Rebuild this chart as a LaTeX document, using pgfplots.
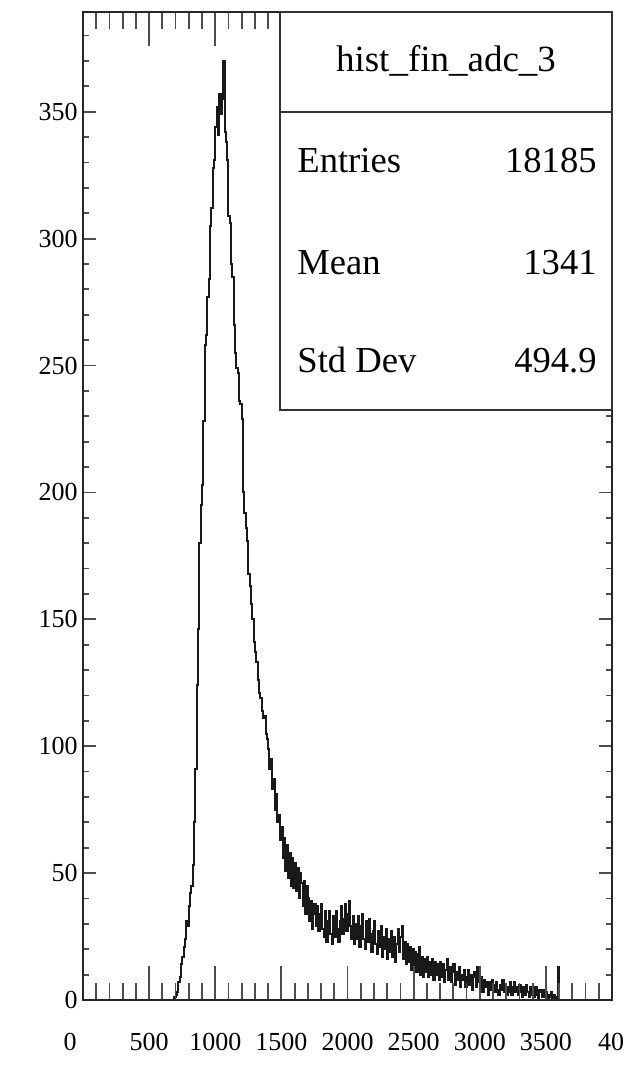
\documentclass[border=0pt]{standalone}
\usepackage{fontspec}
\setmainfont{Liberation Serif}
\usepackage{pgfplots}
\pgfplotsset{compat=1.18}
\usepackage{pgfplotstable}
\pgfplotstableread{
x y
680 0
690 1
700 2
710 3
720 7
730 9
740 14
750 17
760 21
770 24
780 31
790 29
800 37
810 42
820 45
830 53
840 70
850 91
860 124
870 146
880 180
890 195
900 203
910 228
920 258
930 262
940 277
950 284
960 305
970 312
980 328
990 331
1000 344
1010 352
1020 341
1030 357
1040 349
1050 355
1060 370
1070 342
1080 338
1090 331
1100 309
1110 306
1120 290
1130 285
1140 266
1150 255
1160 249
1170 247
1180 236
1190 235
1200 229
1210 200
1220 192
1230 186
1240 181
1250 168
1260 163
1270 156
1280 150
1290 141
1300 137
1310 133
1320 126
1330 121
1340 119
1350 114
1360 111
1370 112
1380 105
1390 103
1400 99
1410 91
1420 95
1430 83
1440 87
1450 75
1460 81
1470 70
1480 73
1490 63
1500 68
1510 56
1520 64
1530 51
1540 61
1550 48
1560 58
1570 45
1580 56
1590 44
1600 54
1610 43
1620 52
1630 40
1640 50
1650 46
1660 37
1670 47
1680 34
1690 45
1700 40
1710 31
1720 39
1730 28
1740 34
1750 38
1760 29
1770 37
1780 27
1790 34
1800 38
1810 28
1820 25
1830 35
1840 23
1850 31
1860 35
1870 26
1880 22
1890 33
1900 25
1910 35
1920 28
1930 23
1940 31
1950 37
1960 26
1970 32
1980 38
1990 27
2000 34
2010 39
2020 29
2030 24
2040 33
2050 22
2060 30
2070 24
2080 33
2090 21
2100 29
2110 34
2120 24
2130 20
2140 31
2150 23
2160 32
2170 26
2180 19
2190 27
2200 31
2210 22
2220 18
2230 27
2240 21
2250 29
2260 17
2270 25
2280 20
2290 28
2300 16
2310 24
2320 19
2330 27
2340 17
2350 25
2360 15
2370 22
2380 28
2390 19
2400 25
2410 29
2420 16
2430 23
2440 14
2450 22
2460 15
2470 21
2480 12
2490 20
2500 13
2510 19
2520 11
2530 18
2540 21
2550 10
2560 17
2570 9
2580 16
2590 11
2600 17
2610 9
2620 15
2630 10
2640 16
2650 8
2660 15
2670 10
2680 14
2690 8
2700 15
2710 9
2720 14
2730 7
2740 12
2750 16
2760 8
2770 13
2780 7
2790 11
2800 14
2810 6
2820 11
2830 8
2840 13
2850 5
2860 10
2870 8
2880 12
2890 5
2900 9
2910 12
2920 6
2930 10
2940 4
2950 9
2960 11
2970 5
2980 13
2990 7
3000 4
3010 9
3020 3
3030 8
3040 5
3050 7
3060 2
3070 7
3080 4
3090 8
3100 6
3110 3
3120 7
3130 4
3140 2
3150 6
3160 4
3170 8
3180 3
3190 6
3200 2
3210 5
3220 3
3230 7
3240 2
3250 5
3260 7
3270 3
3280 5
3290 2
3300 6
3310 3
3320 1
3330 5
3340 2
3350 6
3360 3
3370 1
3380 5
3390 2
3400 4
3410 1
3420 5
3430 2
3440 0
3450 4
3460 3
3470 1
3480 4
3490 1
3500 3
3510 0
3520 2
3530 1
3540 3
3550 0
3560 2
3570 1
3580 0
3590 13
3600 0
3610 0
}\histdata

\begin{document}
\begin{tikzpicture}
\pgfplotsset{
  common/.style={
    at={(41.5pt,37.5pt)}, anchor=south west,
    scale only axis, width=264.5pt, height=494pt,
    xmin=0, xmax=4000, ymin=0, ymax=389.3,
    axis line style={line width=1.4pt, black!85},
    tick style={line width=0.9pt, black!70},
    tick align=inside,
    /pgf/number format/assume math mode=true,
    ticklabel style={font=\fontsize{13}{13}\selectfont},
    scaled ticks=false,
  }
}
\begin{axis}[common,
  xtick=\empty,
  ytick distance=50, minor y tick num=4,
  ytick pos=both, yticklabel pos=left,
  major tick length=6.5pt, minor tick length=3pt,
  yticklabel style={anchor=east, inner sep=0pt, xshift=-2.5pt},
]
\addplot[const plot mark left, line width=1pt, black!90] table[x=x,y=y]{\histdata};
\end{axis}
\begin{axis}[common,
  ytick=\empty,
  xtick={0,500,...,4000}, minor x tick num=4,
  xticklabels={{\kern-6.5pt 0\kern6.5pt},500,1000,1500,2000,2500,3000,3500,{\kern6pt 4000\kern-6pt}},
  xtick pos=both, xticklabel pos=lower,
  major tick length=17pt, minor tick length=8.5pt,
  xticklabel style={anchor=base, inner sep=0pt, yshift=-25pt},
]
\end{axis}
% stats box
\draw[line width=1pt, black!80, fill=white] (140pt,332.5pt) rectangle (306pt,531.5pt);
\draw[line width=1pt, black!80] (140pt,481.5pt) -- (306pt,481.5pt);
\node[anchor=base, font=\fontsize{18.5}{18.5}\selectfont, inner sep=0pt] at (223pt,501.5pt) {hist\_fin\_adc\_3};
\node[anchor=base west, font=\fontsize{18.3}{18.3}\selectfont, inner sep=0pt] at (148.5pt,451pt) {Entries};
\node[anchor=base east, font=\fontsize{18.3}{18.3}\selectfont, inner sep=0pt] at (298.5pt,451pt) {18185};
\node[anchor=base west, font=\fontsize{18.3}{18.3}\selectfont, inner sep=0pt] at (148.5pt,400pt) {Mean};
\node[anchor=base east, font=\fontsize{18.3}{18.3}\selectfont, inner sep=0pt] at (298.5pt,400pt) {1341};
\node[anchor=base west, font=\fontsize{18.3}{18.3}\selectfont, inner sep=0pt] at (148.5pt,351pt) {Std Dev};
\node[anchor=base east, font=\fontsize{18.3}{18.3}\selectfont, inner sep=0pt] at (298.5pt,351pt) {494.9};
\pgfresetboundingbox
\useasboundingbox (0,0) rectangle (312.5pt,537.5pt);
\end{tikzpicture}
\end{document}
